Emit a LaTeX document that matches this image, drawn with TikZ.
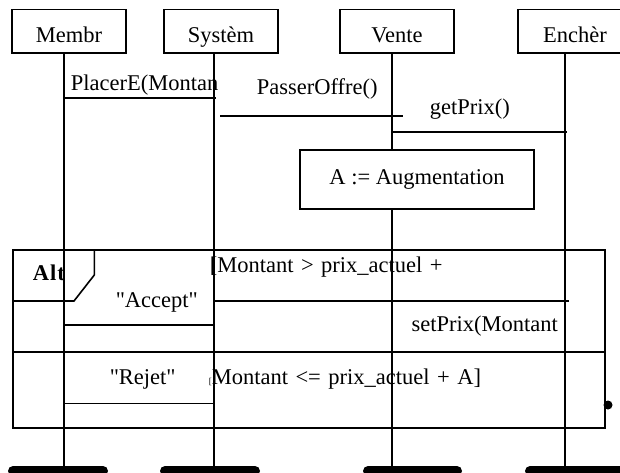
\documentclass[tikz,border=0pt]{standalone}
\usepackage{fontspec}
\setmainfont{Liberation Serif}[Ligatures=TeXOff]
\usetikzlibrary{positioning}
\newcommand\widespaces{\spaceskip=7.5pt plus 1pt\relax}

\begin{document}
\fontsize{22.5}{26}\selectfont
\begin{tikzpicture}[x=1pt, y=-1pt, line width=1.6pt,
    obj/.style={draw, minimum width=114pt, minimum height=43.5pt, inner sep=0pt,
                text height=23pt, text depth=0pt},
    msg/.style={anchor=base west, inner sep=0pt},
    guard/.style={msg, font=\widespaces},
    bar/.style={line width=10pt, line cap=round}]
    \clip (0,0) rectangle (620,472);

    % Objects
    \node (Membr) [obj] at (69,31.25) {Membr};
    \node (Systeme) [obj] at (221,31.25) {Systèm};
    \node (Vente) [obj] at (397,31.25) {Vente};
    \node (Enchere) [obj] at (575,31.25) {Enchèr};

    % Lifelines
    \coordinate (lM) at (64,53);   \coordinate (eM) at (64,466);
    \coordinate (lS) at (214,53);  \coordinate (eS) at (214,466);
    \coordinate (lV) at (392,53);  \coordinate (eV) at (392,466);
    \coordinate (lE) at (565,53);  \coordinate (eE) at (565,466);

    \node (calc) [draw, minimum width=234pt, minimum height=59pt] at (417,179.5) {A := Augmentation};

    \draw (lM) -- (eM);
    \draw (lS) -- (eS);
    \draw (lV) -- (calc.north -| lV);
    \draw (calc.south -| lV) -- (eV);
    \draw (lE) -- (eE);

    \draw [bar] (13,471) -- (103,471);
    \draw [bar] (165,471) -- (255,471);
    \draw [bar] (368,471) -- (457,471);
    \draw [bar] (530,471) -- (630,471);

    % Messages
    \coordinate (a1) at (64,97.7);   \coordinate (a2) at (216,97.7);
    \coordinate (b1) at (220,115.7); \coordinate (b2) at (403,115.7);
    \coordinate (c1) at (392,131.7); \coordinate (c2) at (567,131.7);
    \draw (a1) -- (a2);
    \draw (b1) -- (b2);
    \draw (c1) -- (c2);
    \node (placer) [msg] at (70,90.5) {PlacerE(Montan};
    \node (passer) [msg] at (256,94) {PasserOffre()};
    \node (getprix) [msg] at (429,114) {getPrix()};

    % Alt fragment
    \node (alt) [draw, anchor=north west, minimum width=592pt, minimum height=177.7pt,
                 inner sep=0pt] at (12,249.3) {};
    \draw (94.3,249.3) -- (94.3,275) -- (74,301) -- (12,301);
    \node (altlabel) [msg, font=\bfseries] at (32,280.7) {A\kern1pt l\kern1pt t};
    \draw (alt.west |- 0,352) -- (alt.east |- 0,352);

    \node (guard1) [guard] at (209,272.7) {[Montant > prix\_actuel +};
    \node (guard2) [guard] at (208,384) {{\fontsize{9}{10}\selectfont[}Montant <= prix\_actuel + A]};

    \coordinate (d1) at (569,301);   \coordinate (d2) at (214,301);
    \coordinate (e1) at (214,325);   \coordinate (e2) at (64,325);
    \coordinate (f1) at (214,403.3); \coordinate (f2) at (64,403.3);
    \draw (d1) -- (d2);
    \draw (e1) -- (e2);
    \draw (f1) -- (f2);
    \node (accept) [msg] at (115,307.3) {"Accept"};
    \node (setprix) [msg] at (410.7,331.7) {setPrix(Montant};
    \node (rejet) [msg] at (109,384) {"Rejet"};

    \node (stop) [circle, fill, inner sep=0pt, minimum size=9pt] at (608,405) {};
\end{tikzpicture}
\end{document}
